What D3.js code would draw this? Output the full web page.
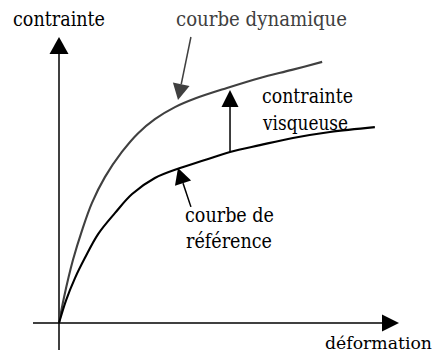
<!DOCTYPE html>
<html>
<head>
<meta charset="utf-8">
<script src="https://cdn.jsdelivr.net/npm/d3@7"></script>
<style>
  body { margin: 0; background: #fff; }
</style>
</head>
<body>
<svg id="chart" width="436" height="356"></svg>
<script>
// strain (x) and stress (y) in arbitrary units, 0..1
const strainDyn = [0, 0.015, 0.041, 0.068, 0.097, 0.135, 0.185, 0.232, 0.282, 0.341, 0.400, 0.494, 0.591, 0.685, 0.774];
const stressDyn = [0, 0.091, 0.220, 0.325, 0.420, 0.510, 0.598, 0.663, 0.713, 0.755, 0.785, 0.822, 0.857, 0.885, 0.913];

const strainRef = [0, 0.021, 0.047, 0.076, 0.115, 0.165, 0.215, 0.282, 0.356, 0.429, 0.503, 0.591, 0.688, 0.797, 0.929];
const stressRef = [0, 0.080, 0.157, 0.227, 0.311, 0.385, 0.451, 0.507, 0.542, 0.570, 0.598, 0.622, 0.647, 0.668, 0.685];

const viscousAt = 0.503;
const viscousTop = 0.815;

const svg = d3.select('svg#chart'),
    originX = 59,
    originY = 323,
    fontFamily = 'DejaVu Serif, serif',
    fontSize = 20,
    axisColor = '#000',
    dynColor = '#404040',
    refColor = '#000';

const x = d3.scaleLinear().domain([0, 1]).range([originX, 399]);
const y = d3.scaleLinear().domain([0, 1]).range([originY, 37]);

const line = d3.line()
    .x(d => x(d[0]))
    .y(d => y(d[1]))
    .curve(d3.curveCatmullRom.alpha(0.5));

const dynData = strainDyn.map((s, i) => [s, stressDyn[i]]);
const refData = strainRef.map((s, i) => [s, stressRef[i]]);

// arrow with a filled triangular head, coords in pixels
function arrow(x1, y1, x2, y2, color, width, headLen, headW) {
    const ang = Math.atan2(y2 - y1, x2 - x1);
    const bx = x2 - headLen * Math.cos(ang),
        by = y2 - headLen * Math.sin(ang);
    svg.append('line')
        .attr('x1', x1).attr('y1', y1)
        .attr('x2', bx).attr('y2', by)
        .attr('stroke', color)
        .attr('stroke-width', width);
    const px = -Math.sin(ang) * headW / 2,
        py = Math.cos(ang) * headW / 2;
    svg.append('path')
        .attr('d', `M${x2},${y2}L${bx + px},${by + py}L${bx - px},${by - py}Z`)
        .attr('fill', color);
}

// axes
arrow(33, y(0), x(1), y(0), axisColor, 1.5, 17, 17);
arrow(x(0), 350, x(0), y(1), axisColor, 1.5, 17, 19);

// curves
svg.append('path')
    .datum(dynData)
    .attr('d', line)
    .attr('fill', 'none')
    .attr('stroke', dynColor)
    .attr('stroke-width', 2.1);

svg.append('path')
    .datum(refData)
    .attr('d', line)
    .attr('fill', 'none')
    .attr('stroke', refColor)
    .attr('stroke-width', 2.1);

// viscous stress arrow
const refAtV = stressRef[strainRef.indexOf(viscousAt)];
arrow(x(viscousAt), y(refAtV), x(viscousAt), y(viscousTop), '#000', 1.5, 17, 17);

// label pointers
arrow(x(0.388), y(1.0), x(0.350), y(0.780), dynColor, 1.5, 16, 17);
arrow(x(0.388), y(0.406), x(0.350), y(0.542), '#000', 1.5, 16, 17);

// texts (w = width measured on the reference)
const labels = [
    { t: 'contrainte', x: 13, y: 26, w: 92, c: '#000' },
    { t: 'courbe dynamique', x: 176, y: 26, w: 171, c: dynColor },
    { t: 'contrainte', x: 262, y: 103, w: 91, c: '#000' },
    { t: 'visqueuse', x: 263, y: 130, w: 85, c: '#000' },
    { t: 'courbe de', x: 185, y: 222, w: 89, c: '#000' },
    { t: 'référence', x: 186, y: 248, w: 86, c: '#000' },
    { t: 'déformation', x: 325, y: 349, w: 107, c: '#000', s: 17.5 }
];
labels.forEach(l => {
    svg.append('text')
        .text(l.t)
        .attr('x', l.x)
        .attr('y', l.y)
        .attr('fill', l.c)
        .attr('font-family', fontFamily)
        .attr('font-size', l.s || fontSize)
        .attr('textLength', l.w)
        .attr('lengthAdjust', 'spacingAndGlyphs');
});
</script>
</body>
</html>
